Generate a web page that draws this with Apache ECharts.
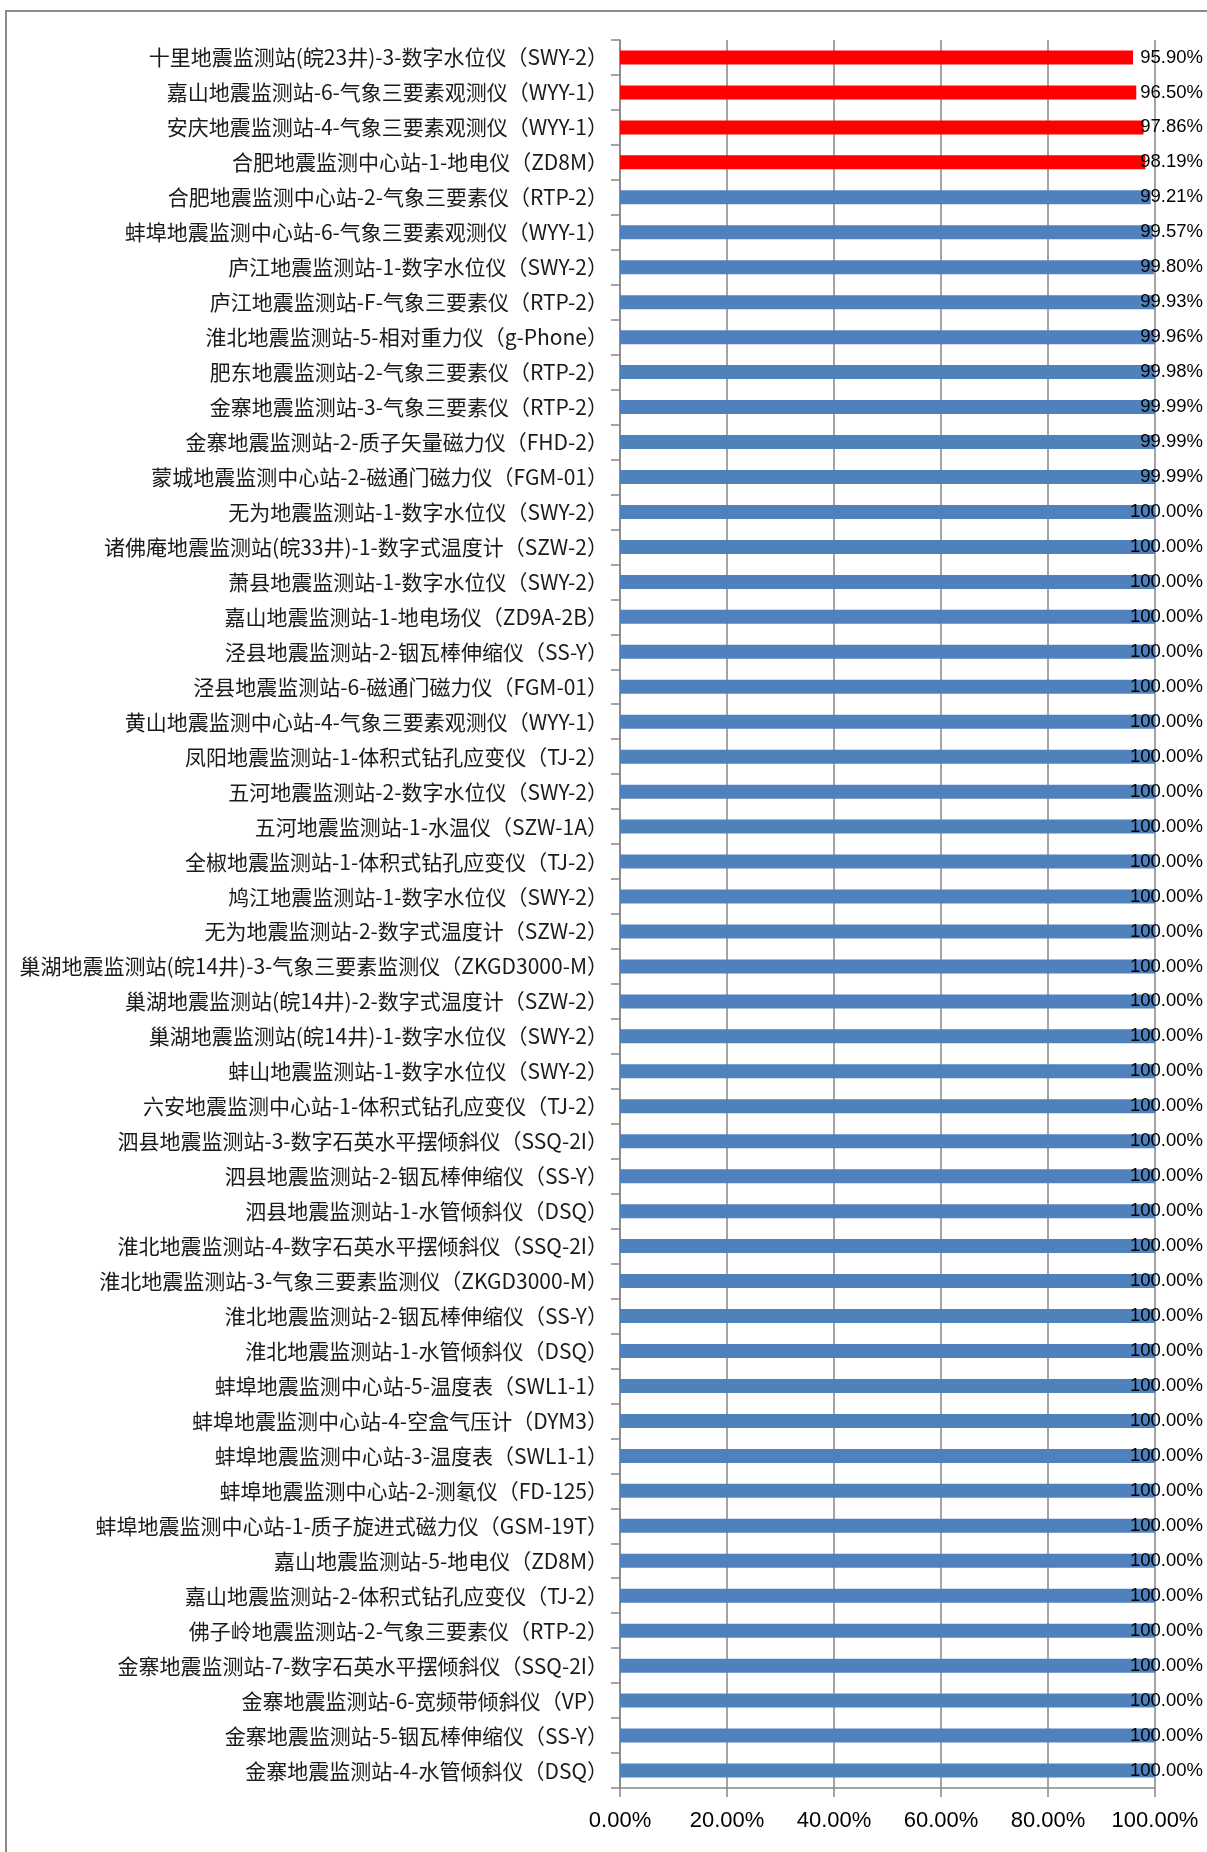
<!DOCTYPE html>
<html lang="zh-CN">
<head>
<meta charset="UTF-8">
<title>ECharts</title>
<script type="text/javascript" src="https://cdn.jsdelivr.net/npm/echarts@6/dist/echarts.min.js"></script>
<style>
  html, body { margin: 0; padding: 0; background: #fff; }
</style>
</head>
<body>
<div id="main" style="width:1207px;height:1852px;"></div>
<script type="text/javascript">
// 台站-测项名称（自上而下）
var stations = [
  '十里地震监测站(皖23井)-3-数字水位仪（SWY-2）',
  '嘉山地震监测站-6-气象三要素观测仪（WYY-1）',
  '安庆地震监测站-4-气象三要素观测仪（WYY-1）',
  '合肥地震监测中心站-1-地电仪（ZD8M）',
  '合肥地震监测中心站-2-气象三要素仪（RTP-2）',
  '蚌埠地震监测中心站-6-气象三要素观测仪（WYY-1）',
  '庐江地震监测站-1-数字水位仪（SWY-2）',
  '庐江地震监测站-F-气象三要素仪（RTP-2）',
  '淮北地震监测站-5-相对重力仪（g-Phone）',
  '肥东地震监测站-2-气象三要素仪（RTP-2）',
  '金寨地震监测站-3-气象三要素仪（RTP-2）',
  '金寨地震监测站-2-质子矢量磁力仪（FHD-2）',
  '蒙城地震监测中心站-2-磁通门磁力仪（FGM-01）',
  '无为地震监测站-1-数字水位仪（SWY-2）',
  '诸佛庵地震监测站(皖33井)-1-数字式温度计（SZW-2）',
  '萧县地震监测站-1-数字水位仪（SWY-2）',
  '嘉山地震监测站-1-地电场仪（ZD9A-2B）',
  '泾县地震监测站-2-铟瓦棒伸缩仪（SS-Y）',
  '泾县地震监测站-6-磁通门磁力仪（FGM-01）',
  '黄山地震监测中心站-4-气象三要素观测仪（WYY-1）',
  '凤阳地震监测站-1-体积式钻孔应变仪（TJ-2）',
  '五河地震监测站-2-数字水位仪（SWY-2）',
  '五河地震监测站-1-水温仪（SZW-1A）',
  '全椒地震监测站-1-体积式钻孔应变仪（TJ-2）',
  '鸠江地震监测站-1-数字水位仪（SWY-2）',
  '无为地震监测站-2-数字式温度计（SZW-2）',
  '巢湖地震监测站(皖14井)-3-气象三要素监测仪（ZKGD3000-M）',
  '巢湖地震监测站(皖14井)-2-数字式温度计（SZW-2）',
  '巢湖地震监测站(皖14井)-1-数字水位仪（SWY-2）',
  '蚌山地震监测站-1-数字水位仪（SWY-2）',
  '六安地震监测中心站-1-体积式钻孔应变仪（TJ-2）',
  '泗县地震监测站-3-数字石英水平摆倾斜仪（SSQ-2I）',
  '泗县地震监测站-2-铟瓦棒伸缩仪（SS-Y）',
  '泗县地震监测站-1-水管倾斜仪（DSQ）',
  '淮北地震监测站-4-数字石英水平摆倾斜仪（SSQ-2I）',
  '淮北地震监测站-3-气象三要素监测仪（ZKGD3000-M）',
  '淮北地震监测站-2-铟瓦棒伸缩仪（SS-Y）',
  '淮北地震监测站-1-水管倾斜仪（DSQ）',
  '蚌埠地震监测中心站-5-温度表（SWL1-1）',
  '蚌埠地震监测中心站-4-空盒气压计（DYM3）',
  '蚌埠地震监测中心站-3-温度表（SWL1-1）',
  '蚌埠地震监测中心站-2-测氡仪（FD-125）',
  '蚌埠地震监测中心站-1-质子旋进式磁力仪（GSM-19T）',
  '嘉山地震监测站-5-地电仪（ZD8M）',
  '嘉山地震监测站-2-体积式钻孔应变仪（TJ-2）',
  '佛子岭地震监测站-2-气象三要素仪（RTP-2）',
  '金寨地震监测站-7-数字石英水平摆倾斜仪（SSQ-2I）',
  '金寨地震监测站-6-宽频带倾斜仪（VP）',
  '金寨地震监测站-5-铟瓦棒伸缩仪（SS-Y）',
  '金寨地震监测站-4-水管倾斜仪（DSQ）'
];

// 运行率（%）
var rates = [
  95.90, 96.50, 97.86, 98.19, 99.21, 99.57, 99.80, 99.93, 99.96, 99.98,
  99.99, 99.99, 99.99, 100, 100, 100, 100, 100, 100, 100,
  100, 100, 100, 100, 100, 100, 100, 100, 100, 100,
  100, 100, 100, 100, 100, 100, 100, 100, 100, 100,
  100, 100, 100, 100, 100, 100, 100, 100, 100, 100
];

// 低于此值的标红
var warnLine = 99;

var xTicks = [0, 20, 40, 60, 80, 100];

var chart = echarts.init(document.getElementById('main'));

chart.setOption({
  animation: false,
  backgroundColor: '#fff',
  graphic: [{
    type: 'rect',
    shape: { x: 6, y: 11, width: 1400, height: 2000 },
    style: { fill: 'none', stroke: '#8a8a8a', lineWidth: 2 },
    silent: true
  }],
  grid: { left: 620, right: 52, top: 40, bottom: 64 },
  xAxis: {
    type: 'value',
    min: xTicks[0],
    max: xTicks[xTicks.length - 1],
    interval: xTicks[1] - xTicks[0],
    axisLine: { show: true, lineStyle: { color: '#868686', width: 1.5 } },
    axisTick: { show: true, length: 9, lineStyle: { color: '#868686', width: 1.5 } },
    splitLine: { show: true, lineStyle: { color: '#868686', width: 1.5 } },
    axisLabel: {
      margin: 22,
      color: '#000',
      fontSize: 22,
      fontFamily: 'Liberation Sans',
      formatter: function (v) { return v.toFixed(2) + '%'; }
    }
  },
  yAxis: {
    type: 'category',
    inverse: true,
    data: stations,
    axisLine: { show: true, lineStyle: { color: '#868686', width: 1.5 } },
    axisTick: { show: true, length: 9, lineStyle: { color: '#868686', width: 1.5 } },
    axisLabel: {
      margin: 12,
      color: '#1a1a1a',
      fontSize: 21,
      fontFamily: 'Noto Sans CJK SC'
    }
  },
  series: [{
    type: 'bar',
    barWidth: 14,
    data: rates.map(function (v) {
      return {
        value: v,
        itemStyle: { color: v < warnLine ? '#ff0000' : '#4f81bd' }
      };
    }),
    label: {
      show: true,
      position: [583, '50%'],
      align: 'right',
      verticalAlign: 'middle',
      color: '#000',
      fontSize: 18.5,
      fontFamily: 'Liberation Sans',
      formatter: function (p) { return p.value.toFixed(2) + '%'; }
    }
  }]
});
</script>
</body>
</html>
